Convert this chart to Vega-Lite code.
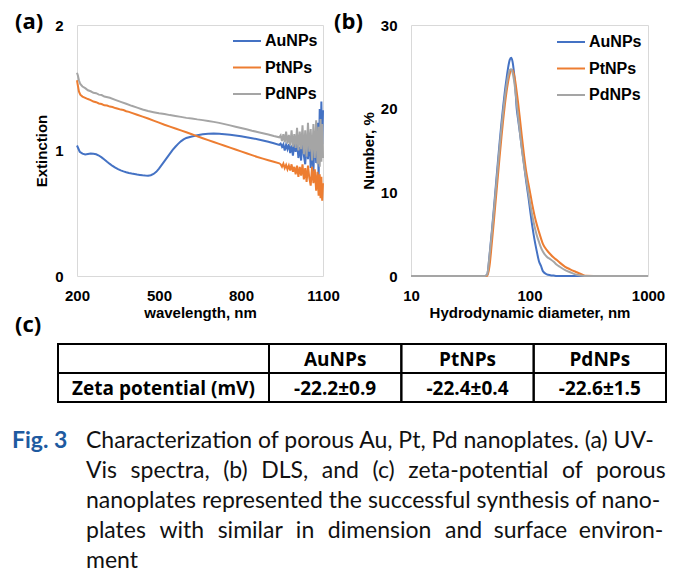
{
  "$schema": "https://vega.github.io/schema/vega-lite/v6.json",
  "background": "white",
  "padding": {"left": 12, "top": 10, "right": 0, "bottom": 0},
  "bounds": "flush",
  "spacing": 319,
  "config": {
    "view": {"stroke": null},
    "axis": {"labelFont": "Liberation Sans", "labelFontWeight": "bold", "labelFontSize": 15, "labelColor": "#000", "titleFont": "Liberation Sans", "titleFontWeight": "bold", "titleFontSize": 15, "titleColor": "#000", "grid": false, "ticks": false, "domain": false, "labelFlush": false, "labelOverlap": false},
    "title": {"font": "Open Sans", "fontSize": 22, "fontWeight": "bold", "color": "#000", "anchor": "start", "frame": "group", "offset": 0}
  },
  "datasets": {
    "uv": [
      {"s":"AuNPs","x":200,"y":1.04},{"s":"AuNPs","x":204,"y":1.02},{"s":"AuNPs","x":210,"y":0.99},{"s":"AuNPs","x":220,"y":0.975},{"s":"AuNPs","x":230,"y":0.968},{"s":"AuNPs","x":240,"y":0.972},{"s":"AuNPs","x":250,"y":0.976},{"s":"AuNPs","x":260,"y":0.974},{"s":"AuNPs","x":270,"y":0.97},{"s":"AuNPs","x":280,"y":0.96},{"s":"AuNPs","x":290,"y":0.945},{"s":"AuNPs","x":300,"y":0.928},{"s":"AuNPs","x":310,"y":0.91},{"s":"AuNPs","x":320,"y":0.893},{"s":"AuNPs","x":330,"y":0.877},{"s":"AuNPs","x":340,"y":0.863},{"s":"AuNPs","x":350,"y":0.851},{"s":"AuNPs","x":360,"y":0.842},{"s":"AuNPs","x":370,"y":0.834},{"s":"AuNPs","x":380,"y":0.827},{"s":"AuNPs","x":390,"y":0.821},{"s":"AuNPs","x":400,"y":0.816},{"s":"AuNPs","x":410,"y":0.812},{"s":"AuNPs","x":420,"y":0.808},{"s":"AuNPs","x":430,"y":0.805},{"s":"AuNPs","x":440,"y":0.802},{"s":"AuNPs","x":450,"y":0.8},{"s":"AuNPs","x":460,"y":0.799},{"s":"AuNPs","x":470,"y":0.803},{"s":"AuNPs","x":480,"y":0.813},{"s":"AuNPs","x":490,"y":0.83},{"s":"AuNPs","x":500,"y":0.855},{"s":"AuNPs","x":510,"y":0.885},{"s":"AuNPs","x":520,"y":0.915},{"s":"AuNPs","x":530,"y":0.945},{"s":"AuNPs","x":540,"y":0.975},{"s":"AuNPs","x":550,"y":1.005},{"s":"AuNPs","x":560,"y":1.03},{"s":"AuNPs","x":570,"y":1.053},{"s":"AuNPs","x":580,"y":1.073},{"s":"AuNPs","x":590,"y":1.088},{"s":"AuNPs","x":600,"y":1.1},{"s":"AuNPs","x":620,"y":1.112},{"s":"AuNPs","x":640,"y":1.122},{"s":"AuNPs","x":660,"y":1.129},{"s":"AuNPs","x":680,"y":1.133},{"s":"AuNPs","x":700,"y":1.135},{"s":"AuNPs","x":720,"y":1.133},{"s":"AuNPs","x":740,"y":1.129},{"s":"AuNPs","x":760,"y":1.125},{"s":"AuNPs","x":780,"y":1.12},{"s":"AuNPs","x":800,"y":1.113},{"s":"AuNPs","x":820,"y":1.106},{"s":"AuNPs","x":840,"y":1.098},{"s":"AuNPs","x":860,"y":1.09},{"s":"AuNPs","x":880,"y":1.08},{"s":"AuNPs","x":900,"y":1.07},{"s":"AuNPs","x":920,"y":1.058},{"s":"AuNPs","x":940,"y":1.045},
      {"s":"AuNPs","x":945,"y":1.055},{"s":"AuNPs","x":950,"y":1.03},{"s":"AuNPs","x":955,"y":1.05},{"s":"AuNPs","x":960,"y":1.0},{"s":"AuNPs","x":965,"y":1.045},{"s":"AuNPs","x":970,"y":1.01},{"s":"AuNPs","x":975,"y":1.05},{"s":"AuNPs","x":980,"y":0.98},{"s":"AuNPs","x":985,"y":1.04},{"s":"AuNPs","x":990,"y":0.96},{"s":"AuNPs","x":995,"y":1.05},{"s":"AuNPs","x":1000,"y":0.99},{"s":"AuNPs","x":1005,"y":1.07},{"s":"AuNPs","x":1010,"y":0.94},{"s":"AuNPs","x":1015,"y":1.03},{"s":"AuNPs","x":1020,"y":0.92},{"s":"AuNPs","x":1025,"y":1.09},{"s":"AuNPs","x":1030,"y":0.96},{"s":"AuNPs","x":1035,"y":0.89},{"s":"AuNPs","x":1040,"y":1.06},{"s":"AuNPs","x":1045,"y":0.93},{"s":"AuNPs","x":1050,"y":1.12},{"s":"AuNPs","x":1055,"y":0.86},{"s":"AuNPs","x":1060,"y":1.02},{"s":"AuNPs","x":1065,"y":0.83},{"s":"AuNPs","x":1070,"y":1.15},{"s":"AuNPs","x":1075,"y":0.9},{"s":"AuNPs","x":1080,"y":1.22},{"s":"AuNPs","x":1084,"y":0.78},{"s":"AuNPs","x":1088,"y":1.33},{"s":"AuNPs","x":1091,"y":0.96},{"s":"AuNPs","x":1094,"y":1.39},{"s":"AuNPs","x":1097,"y":1.05},{"s":"AuNPs","x":1100,"y":1.32},
      {"s":"PtNPs","x":200,"y":1.56},{"s":"PtNPs","x":203,"y":1.52},{"s":"PtNPs","x":207,"y":1.47},{"s":"PtNPs","x":212,"y":1.445},{"s":"PtNPs","x":220,"y":1.43},{"s":"PtNPs","x":230,"y":1.42},{"s":"PtNPs","x":240,"y":1.41},{"s":"PtNPs","x":250,"y":1.402},{"s":"PtNPs","x":260,"y":1.39},{"s":"PtNPs","x":270,"y":1.385},{"s":"PtNPs","x":280,"y":1.375},{"s":"PtNPs","x":290,"y":1.37},{"s":"PtNPs","x":300,"y":1.36},{"s":"PtNPs","x":310,"y":1.358},{"s":"PtNPs","x":320,"y":1.35},{"s":"PtNPs","x":330,"y":1.346},{"s":"PtNPs","x":340,"y":1.338},{"s":"PtNPs","x":350,"y":1.333},{"s":"PtNPs","x":360,"y":1.326},{"s":"PtNPs","x":370,"y":1.322},{"s":"PtNPs","x":380,"y":1.313},{"s":"PtNPs","x":390,"y":1.308},{"s":"PtNPs","x":400,"y":1.3},{"s":"PtNPs","x":420,"y":1.285},{"s":"PtNPs","x":440,"y":1.27},{"s":"PtNPs","x":460,"y":1.255},{"s":"PtNPs","x":480,"y":1.238},{"s":"PtNPs","x":500,"y":1.222},{"s":"PtNPs","x":520,"y":1.205},{"s":"PtNPs","x":540,"y":1.19},{"s":"PtNPs","x":560,"y":1.175},{"s":"PtNPs","x":580,"y":1.16},{"s":"PtNPs","x":600,"y":1.145},{"s":"PtNPs","x":620,"y":1.13},{"s":"PtNPs","x":640,"y":1.113},{"s":"PtNPs","x":660,"y":1.098},{"s":"PtNPs","x":680,"y":1.083},{"s":"PtNPs","x":700,"y":1.068},{"s":"PtNPs","x":720,"y":1.053},{"s":"PtNPs","x":740,"y":1.038},{"s":"PtNPs","x":760,"y":1.023},{"s":"PtNPs","x":780,"y":1.008},{"s":"PtNPs","x":800,"y":0.993},{"s":"PtNPs","x":820,"y":0.978},{"s":"PtNPs","x":840,"y":0.963},{"s":"PtNPs","x":860,"y":0.948},{"s":"PtNPs","x":880,"y":0.935},{"s":"PtNPs","x":900,"y":0.922},{"s":"PtNPs","x":920,"y":0.91},{"s":"PtNPs","x":940,"y":0.898},
      {"s":"PtNPs","x":945,"y":0.89},{"s":"PtNPs","x":950,"y":0.87},{"s":"PtNPs","x":955,"y":0.895},{"s":"PtNPs","x":960,"y":0.86},{"s":"PtNPs","x":965,"y":0.885},{"s":"PtNPs","x":970,"y":0.85},{"s":"PtNPs","x":975,"y":0.88},{"s":"PtNPs","x":980,"y":0.84},{"s":"PtNPs","x":985,"y":0.89},{"s":"PtNPs","x":990,"y":0.83},{"s":"PtNPs","x":995,"y":0.87},{"s":"PtNPs","x":1000,"y":0.81},{"s":"PtNPs","x":1005,"y":0.88},{"s":"PtNPs","x":1010,"y":0.79},{"s":"PtNPs","x":1015,"y":0.87},{"s":"PtNPs","x":1020,"y":0.8},{"s":"PtNPs","x":1025,"y":0.89},{"s":"PtNPs","x":1030,"y":0.77},{"s":"PtNPs","x":1035,"y":0.86},{"s":"PtNPs","x":1040,"y":0.75},{"s":"PtNPs","x":1045,"y":0.88},{"s":"PtNPs","x":1050,"y":0.78},{"s":"PtNPs","x":1055,"y":0.72},{"s":"PtNPs","x":1060,"y":0.87},{"s":"PtNPs","x":1065,"y":0.74},{"s":"PtNPs","x":1070,"y":0.85},{"s":"PtNPs","x":1075,"y":0.68},{"s":"PtNPs","x":1080,"y":0.83},{"s":"PtNPs","x":1084,"y":0.64},{"s":"PtNPs","x":1088,"y":0.81},{"s":"PtNPs","x":1091,"y":0.62},{"s":"PtNPs","x":1094,"y":0.79},{"s":"PtNPs","x":1097,"y":0.6},{"s":"PtNPs","x":1100,"y":0.74},
      {"s":"PdNPs","x":200,"y":1.62},{"s":"PdNPs","x":203,"y":1.6},{"s":"PdNPs","x":207,"y":1.56},{"s":"PdNPs","x":212,"y":1.53},{"s":"PdNPs","x":220,"y":1.51},{"s":"PdNPs","x":230,"y":1.497},{"s":"PdNPs","x":240,"y":1.48},{"s":"PdNPs","x":250,"y":1.472},{"s":"PdNPs","x":260,"y":1.46},{"s":"PdNPs","x":270,"y":1.457},{"s":"PdNPs","x":280,"y":1.445},{"s":"PdNPs","x":290,"y":1.442},{"s":"PdNPs","x":300,"y":1.43},{"s":"PdNPs","x":320,"y":1.42},{"s":"PdNPs","x":340,"y":1.403},{"s":"PdNPs","x":360,"y":1.387},{"s":"PdNPs","x":380,"y":1.372},{"s":"PdNPs","x":400,"y":1.356},{"s":"PdNPs","x":420,"y":1.342},{"s":"PdNPs","x":440,"y":1.327},{"s":"PdNPs","x":460,"y":1.315},{"s":"PdNPs","x":480,"y":1.305},{"s":"PdNPs","x":500,"y":1.296},{"s":"PdNPs","x":520,"y":1.29},{"s":"PdNPs","x":540,"y":1.282},{"s":"PdNPs","x":560,"y":1.275},{"s":"PdNPs","x":580,"y":1.268},{"s":"PdNPs","x":600,"y":1.26},{"s":"PdNPs","x":620,"y":1.255},{"s":"PdNPs","x":640,"y":1.248},{"s":"PdNPs","x":660,"y":1.242},{"s":"PdNPs","x":680,"y":1.235},{"s":"PdNPs","x":700,"y":1.228},{"s":"PdNPs","x":720,"y":1.22},{"s":"PdNPs","x":740,"y":1.21},{"s":"PdNPs","x":760,"y":1.2},{"s":"PdNPs","x":780,"y":1.19},{"s":"PdNPs","x":800,"y":1.18},{"s":"PdNPs","x":820,"y":1.17},{"s":"PdNPs","x":840,"y":1.158},{"s":"PdNPs","x":860,"y":1.148},{"s":"PdNPs","x":880,"y":1.138},{"s":"PdNPs","x":900,"y":1.128},{"s":"PdNPs","x":920,"y":1.115},{"s":"PdNPs","x":940,"y":1.105},
      {"s":"PdNPs","x":945,"y":1.12},{"s":"PdNPs","x":950,"y":1.075},{"s":"PdNPs","x":955,"y":1.13},{"s":"PdNPs","x":960,"y":1.065},{"s":"PdNPs","x":965,"y":1.15},{"s":"PdNPs","x":970,"y":1.055},{"s":"PdNPs","x":975,"y":1.125},{"s":"PdNPs","x":980,"y":1.04},{"s":"PdNPs","x":985,"y":1.16},{"s":"PdNPs","x":990,"y":1.03},{"s":"PdNPs","x":995,"y":1.13},{"s":"PdNPs","x":1000,"y":1.02},{"s":"PdNPs","x":1005,"y":1.18},{"s":"PdNPs","x":1010,"y":1.0},{"s":"PdNPs","x":1015,"y":1.15},{"s":"PdNPs","x":1020,"y":1.01},{"s":"PdNPs","x":1025,"y":1.2},{"s":"PdNPs","x":1030,"y":0.97},{"s":"PdNPs","x":1035,"y":1.16},{"s":"PdNPs","x":1040,"y":0.95},{"s":"PdNPs","x":1045,"y":1.22},{"s":"PdNPs","x":1050,"y":0.99},{"s":"PdNPs","x":1055,"y":1.17},{"s":"PdNPs","x":1060,"y":0.92},{"s":"PdNPs","x":1065,"y":1.21},{"s":"PdNPs","x":1070,"y":0.94},{"s":"PdNPs","x":1075,"y":1.24},{"s":"PdNPs","x":1080,"y":0.89},{"s":"PdNPs","x":1084,"y":1.19},{"s":"PdNPs","x":1088,"y":0.87},{"s":"PdNPs","x":1091,"y":1.25},{"s":"PdNPs","x":1094,"y":0.91},{"s":"PdNPs","x":1097,"y":1.21},{"s":"PdNPs","x":1100,"y":0.94}
    ],
    "dls": [
      {"s":"AuNPs","d":10,"n":0},{"s":"AuNPs","d":20,"n":0},{"s":"AuNPs","d":30,"n":0},{"s":"AuNPs","d":40,"n":0},{"s":"AuNPs","d":42,"n":0},{"s":"AuNPs","d":44,"n":0.2},{"s":"AuNPs","d":46,"n":2.5},{"s":"AuNPs","d":48,"n":5.2},{"s":"AuNPs","d":50,"n":8.0},{"s":"AuNPs","d":52,"n":10.8},{"s":"AuNPs","d":54,"n":13.5},{"s":"AuNPs","d":56,"n":16.0},{"s":"AuNPs","d":58,"n":18.3},{"s":"AuNPs","d":60,"n":20.3},{"s":"AuNPs","d":62,"n":22.1},{"s":"AuNPs","d":64,"n":23.6},{"s":"AuNPs","d":66,"n":24.9},{"s":"AuNPs","d":68,"n":25.8},{"s":"AuNPs","d":70,"n":26.1},{"s":"AuNPs","d":72,"n":25.6},{"s":"AuNPs","d":74,"n":24.3},{"s":"AuNPs","d":76,"n":22.4},{"s":"AuNPs","d":78,"n":20.0},{"s":"AuNPs","d":80,"n":18.8},{"s":"AuNPs","d":83,"n":17.1},{"s":"AuNPs","d":86,"n":15.4},{"s":"AuNPs","d":90,"n":13.3},{"s":"AuNPs","d":94,"n":11.2},{"s":"AuNPs","d":98,"n":9.4},{"s":"AuNPs","d":102,"n":7.5},{"s":"AuNPs","d":106,"n":5.8},{"s":"AuNPs","d":110,"n":4.4},{"s":"AuNPs","d":115,"n":3.0},{"s":"AuNPs","d":120,"n":1.8},{"s":"AuNPs","d":125,"n":1.2},{"s":"AuNPs","d":130,"n":0.55},{"s":"AuNPs","d":140,"n":0.2},{"s":"AuNPs","d":150,"n":0.1},{"s":"AuNPs","d":160,"n":0.05},{"s":"AuNPs","d":170,"n":0},{"s":"AuNPs","d":180,"n":0},{"s":"AuNPs","d":200,"n":0},{"s":"AuNPs","d":220,"n":0},{"s":"AuNPs","d":250,"n":0},{"s":"AuNPs","d":280,"n":0},{"s":"AuNPs","d":300,"n":0},{"s":"AuNPs","d":400,"n":0},{"s":"AuNPs","d":600,"n":0},{"s":"AuNPs","d":1000,"n":0},
      {"s":"PtNPs","d":10,"n":0},{"s":"PtNPs","d":20,"n":0},{"s":"PtNPs","d":30,"n":0},{"s":"PtNPs","d":40,"n":0},{"s":"PtNPs","d":42,"n":0},{"s":"PtNPs","d":44,"n":0},{"s":"PtNPs","d":46,"n":1.2},{"s":"PtNPs","d":48,"n":3.8},{"s":"PtNPs","d":50,"n":6.5},{"s":"PtNPs","d":52,"n":9.2},{"s":"PtNPs","d":54,"n":11.8},{"s":"PtNPs","d":56,"n":14.3},{"s":"PtNPs","d":58,"n":16.6},{"s":"PtNPs","d":60,"n":18.7},{"s":"PtNPs","d":62,"n":20.5},{"s":"PtNPs","d":64,"n":22.0},{"s":"PtNPs","d":66,"n":23.2},{"s":"PtNPs","d":68,"n":24.1},{"s":"PtNPs","d":70,"n":24.6},{"s":"PtNPs","d":72,"n":24.6},{"s":"PtNPs","d":74,"n":24.1},{"s":"PtNPs","d":76,"n":23.2},{"s":"PtNPs","d":78,"n":22.0},{"s":"PtNPs","d":80,"n":20.8},{"s":"PtNPs","d":83,"n":18.8},{"s":"PtNPs","d":86,"n":16.8},{"s":"PtNPs","d":90,"n":14.4},{"s":"PtNPs","d":94,"n":12.4},{"s":"PtNPs","d":98,"n":11.0},{"s":"PtNPs","d":102,"n":9.7},{"s":"PtNPs","d":106,"n":8.4},{"s":"PtNPs","d":110,"n":7.3},{"s":"PtNPs","d":115,"n":6.2},{"s":"PtNPs","d":120,"n":5.3},{"s":"PtNPs","d":125,"n":4.5},{"s":"PtNPs","d":130,"n":3.8},{"s":"PtNPs","d":140,"n":3.1},{"s":"PtNPs","d":150,"n":2.6},{"s":"PtNPs","d":160,"n":2.2},{"s":"PtNPs","d":170,"n":1.9},{"s":"PtNPs","d":180,"n":1.6},{"s":"PtNPs","d":200,"n":1.1},{"s":"PtNPs","d":220,"n":0.8},{"s":"PtNPs","d":250,"n":0.45},{"s":"PtNPs","d":280,"n":0.15},{"s":"PtNPs","d":300,"n":0.02},{"s":"PtNPs","d":400,"n":0},{"s":"PtNPs","d":600,"n":0},{"s":"PtNPs","d":1000,"n":0},
      {"s":"PdNPs","d":10,"n":0},{"s":"PdNPs","d":20,"n":0},{"s":"PdNPs","d":30,"n":0},{"s":"PdNPs","d":40,"n":0},{"s":"PdNPs","d":42,"n":0},{"s":"PdNPs","d":44,"n":0.2},{"s":"PdNPs","d":46,"n":2.4},{"s":"PdNPs","d":48,"n":5.0},{"s":"PdNPs","d":50,"n":7.7},{"s":"PdNPs","d":52,"n":10.4},{"s":"PdNPs","d":54,"n":13.0},{"s":"PdNPs","d":56,"n":15.5},{"s":"PdNPs","d":58,"n":17.7},{"s":"PdNPs","d":60,"n":19.7},{"s":"PdNPs","d":62,"n":21.4},{"s":"PdNPs","d":64,"n":22.8},{"s":"PdNPs","d":66,"n":23.9},{"s":"PdNPs","d":68,"n":24.6},{"s":"PdNPs","d":70,"n":24.7},{"s":"PdNPs","d":72,"n":24.3},{"s":"PdNPs","d":74,"n":23.4},{"s":"PdNPs","d":76,"n":22.1},{"s":"PdNPs","d":78,"n":20.6},{"s":"PdNPs","d":80,"n":19.2},{"s":"PdNPs","d":83,"n":17.2},{"s":"PdNPs","d":86,"n":15.3},{"s":"PdNPs","d":90,"n":13.2},{"s":"PdNPs","d":94,"n":11.5},{"s":"PdNPs","d":98,"n":9.9},{"s":"PdNPs","d":102,"n":8.4},{"s":"PdNPs","d":106,"n":7.1},{"s":"PdNPs","d":110,"n":6.0},{"s":"PdNPs","d":115,"n":4.9},{"s":"PdNPs","d":120,"n":4.1},{"s":"PdNPs","d":125,"n":3.4},{"s":"PdNPs","d":130,"n":2.9},{"s":"PdNPs","d":140,"n":2.3},{"s":"PdNPs","d":150,"n":2.0},{"s":"PdNPs","d":160,"n":1.7},{"s":"PdNPs","d":170,"n":1.35},{"s":"PdNPs","d":180,"n":1.1},{"s":"PdNPs","d":200,"n":0.7},{"s":"PdNPs","d":220,"n":0.45},{"s":"PdNPs","d":250,"n":0.15},{"s":"PdNPs","d":280,"n":0.03},{"s":"PdNPs","d":300,"n":0},{"s":"PdNPs","d":400,"n":0},{"s":"PdNPs","d":600,"n":0},{"s":"PdNPs","d":1000,"n":0}
    ],
    "table": [
      {"row":0,"r1":1,"rm":0.5,"col":0,"c1":1,"cm":0.5,"text":""},
      {"row":0,"r1":1,"rm":0.5,"col":1,"c1":2,"cm":1.5,"text":"AuNPs"},
      {"row":0,"r1":1,"rm":0.5,"col":2,"c1":3,"cm":2.5,"text":"PtNPs"},
      {"row":0,"r1":1,"rm":0.5,"col":3,"c1":4,"cm":3.5,"text":"PdNPs"},
      {"row":1,"r1":2,"rm":1.5,"col":0,"c1":1,"cm":0.5,"text":"Zeta potential (mV)"},
      {"row":1,"r1":2,"rm":1.5,"col":1,"c1":2,"cm":1.5,"text":"-22.2±0.9"},
      {"row":1,"r1":2,"rm":1.5,"col":2,"c1":3,"cm":2.5,"text":"-22.4±0.4"},
      {"row":1,"r1":2,"rm":1.5,"col":3,"c1":4,"cm":3.5,"text":"-22.6±1.5"}
    ],
    "caption": [
      {"line":1,"part":"label","text":"Fig. 3"},
      {"line":1,"part":"body","text":"Characterization of porous Au, Pt, Pd nanoplates. (a) UV-"},
      {"line":2,"part":"body","text":"Vis \u2004spectra, \u2004(b) \u2004DLS, \u2004and \u2004(c) \u2004zeta-potential \u2004of \u2004porous"},
      {"line":3,"part":"body","text":"nanoplates represented the successful synthesis of nano-"},
      {"line":4,"part":"body","text":"plates \u2004with \u2004similar \u2004in \u2004dimension \u2004and \u2005surface \u2005environ-"},
      {"line":5,"part":"body","text":"ment"}
    ]
  },
  "vconcat": [
    {
      "hconcat": [
        {"width": 65, "height": 251, "data": {"values": [{"v": 0}]}, "mark": {"type": "point", "opacity": 0}, "encoding": {}},
        {
          "hconcat": [
            {
              "width": 246, "height": 251,
              "view": {"stroke": "#d9d9d9"},
              "title": {"text": "(a)", "dx": -62, "dy": 20},
              "data": {"name": "uv"},
              "mark": {"type": "line", "strokeWidth": 2},
              "encoding": {
                "x": {"field": "x", "type": "quantitative", "scale": {"domain": [200, 1100], "nice": false, "zero": false}, "axis": {"values": [200, 500, 800, 1100], "format": "d", "title": "wavelength, nm", "labelPadding": 12, "titlePadding": 2, "labelOverlap": false}},
                "y": {"field": "y", "type": "quantitative", "scale": {"domain": [0, 2], "nice": false}, "axis": {"values": [0, 1, 2], "format": ".0f", "title": "Extinction", "labelPadding": 14, "titlePadding": 5, "labelOverlap": false, "labelBound": false}},
                "color": {"field": "s", "type": "nominal", "scale": {"domain": ["AuNPs", "PtNPs", "PdNPs"], "range": ["#4472C4", "#ED7D31", "#A5A5A5"]},
                  "legend": {"orient": "none", "legendX": 155, "legendY": 1, "title": null, "symbolType": "stroke", "symbolSize": 784, "symbolStrokeWidth": 2, "labelFont": "Liberation Sans", "labelFontSize": 16, "labelFontWeight": "bold", "labelColor": "#000", "labelOffset": 3, "rowPadding": 3.5, "padding": 0}}
              }
            },
            {
              "width": 237, "height": 251,
              "view": {"stroke": "#d9d9d9"},
              "title": {"text": "(b)", "dx": -77, "dy": 20},
              "data": {"name": "dls"},
              "mark": {"type": "line", "strokeWidth": 2, "interpolate": "monotone"},
              "encoding": {
                "x": {"field": "d", "type": "quantitative", "scale": {"type": "log", "domain": [10, 1000], "nice": false}, "axis": {"values": [10, 100, 1000], "format": "d", "title": "Hydrodynamic diameter, nm", "labelPadding": 12, "titlePadding": 2, "labelOverlap": false}},
                "y": {"field": "n", "type": "quantitative", "scale": {"domain": [0, 30], "nice": false}, "axis": {"values": [0, 10, 20, 30], "format": "d", "title": "Number, %", "labelPadding": 14, "titlePadding": 4, "labelOverlap": false}},
                "color": {"field": "s", "type": "nominal", "scale": {"domain": ["AuNPs", "PtNPs", "PdNPs"], "range": ["#4472C4", "#ED7D31", "#A5A5A5"]},
                  "legend": {"orient": "none", "legendX": 145, "legendY": 2, "title": null, "symbolType": "stroke", "symbolSize": 784, "symbolStrokeWidth": 2, "labelFont": "Liberation Sans", "labelFontSize": 16, "labelFontWeight": "bold", "labelColor": "#000", "labelOffset": 3, "rowPadding": 3.5, "padding": 0}}
              }
            }
          ],
          "spacing": 88,
          "bounds": "flush",
          "resolve": {"scale": {"color": "independent"}, "legend": {"color": "independent"}}
        }
      ],
      "spacing": 0,
      "bounds": "flush"
    },
    {
      "vconcat": [
        {
          "hconcat": [
            {"width": 46, "height": 58, "data": {"values": [{"v": 0}]}, "mark": {"type": "point", "opacity": 0}, "encoding": {}},
            {
              "width": 608, "height": 58,
              "title": {"text": "(c)", "dx": -43, "offset": 6},
              "data": {"name": "table"},
              "layer": [
                {
                  "mark": {"type": "rect", "fill": "white", "fillOpacity": 0, "stroke": "#000", "strokeWidth": 2},
                  "encoding": {
                    "x": {"field": "col", "type": "quantitative", "scale": {"domain": [0, 1, 4], "range": [0, 211, 608], "nice": false, "zero": false}, "axis": null},
                    "x2": {"field": "c1"},
                    "y": {"field": "row", "type": "quantitative", "scale": {"domain": [0, 2], "range": [0, 58], "nice": false, "zero": false}, "axis": null},
                    "y2": {"field": "r1"}
                  }
                },
                {
                  "mark": {"type": "text", "font": "Open Sans", "fontSize": 19, "fontWeight": "bold", "color": "#000", "align": "center", "baseline": "middle", "dy": 1},
                  "encoding": {
                    "x": {"field": "cm", "type": "quantitative"},
                    "y": {"field": "rm", "type": "quantitative"},
                    "text": {"field": "text"}
                  }
                }
              ]
            }
          ],
          "spacing": 0,
          "bounds": "flush"
        },
        {
          "width": 74, "height": 120,
          "data": {"name": "caption"},
          "encoding": {
            "x": {"field": "part", "type": "nominal", "scale": {"type": "point", "domain": ["label", "body"], "padding": 0}, "axis": null},
            "y": {"field": "line", "type": "ordinal", "scale": {"type": "point", "padding": 0}, "axis": null},
            "text": {"field": "text"}
          },
          "layer": [
            {"transform": [{"filter": "datum.part === 'label'"}], "mark": {"type": "text", "font": "Lato", "fontSize": 23, "fontWeight": "bold", "color": "#1e5aa0", "align": "left", "baseline": "alphabetic"}},
            {"transform": [{"filter": "datum.part === 'body'"}], "mark": {"type": "text", "font": "Lato", "fontSize": 23, "color": "#111", "align": "left", "baseline": "alphabetic"}}
          ]
        }
      ],
      "spacing": 104,
      "bounds": "flush"
    }
  ]
}
